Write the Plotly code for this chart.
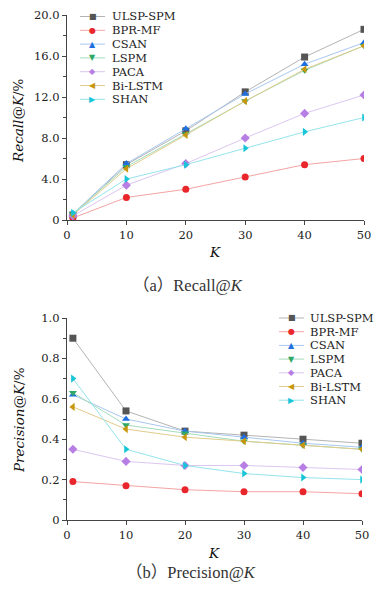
import plotly.graph_objects as go

K = [1, 10, 20, 30, 40, 50]
methods = ["ULSP-SPM", "BPR-MF", "CSAN", "LSPM", "PACA", "Bi-LSTM", "SHAN"]

recall_ulsp = [0.5, 5.4, 8.7, 12.5, 15.9, 18.6]
recall_bpr = [0.2, 2.2, 3.0, 4.2, 5.4, 6.0]
recall_csan = [0.6, 5.5, 8.9, 12.3, 15.2, 17.3]
recall_lspm = [0.6, 5.2, 8.4, 11.6, 14.6, 17.0]
recall_paca = [0.4, 3.4, 5.5, 8.0, 10.4, 12.2]
recall_bilstm = [0.5, 5.0, 8.3, 11.6, 14.7, 17.0]
recall_shan = [0.7, 4.0, 5.4, 7.0, 8.6, 10.0]

prec_ulsp = [0.90, 0.54, 0.44, 0.42, 0.40, 0.38]
prec_bpr = [0.19, 0.17, 0.15, 0.14, 0.14, 0.13]
prec_csan = [0.62, 0.50, 0.44, 0.41, 0.38, 0.36]
prec_lspm = [0.63, 0.47, 0.43, 0.39, 0.37, 0.35]
prec_paca = [0.35, 0.29, 0.27, 0.27, 0.26, 0.25]
prec_bilstm = [0.56, 0.45, 0.41, 0.39, 0.37, 0.35]
prec_shan = [0.70, 0.35, 0.27, 0.23, 0.21, 0.20]

recall_vals = [recall_ulsp, recall_bpr, recall_csan, recall_lspm, recall_paca, recall_bilstm, recall_shan]
prec_vals = [prec_ulsp, prec_bpr, prec_csan, prec_lspm, prec_paca, prec_bilstm, prec_shan]

x_ticks = [0, 10, 20, 30, 40, 50]
recall_ticks = [0, 4, 8, 12, 16, 20]
recall_ticktext = ["0", "4.0", "8.0", "12.0", "16.0", "20.0"]
prec_ticks = [0, 0.2, 0.4, 0.6, 0.8, 1.0]
prec_ticktext = ["0", "0.2", "0.4", "0.6", "0.8", "1.0"]

marker_colors = ["#555555", "#e8262b", "#1f6fe0", "#2ea866", "#b77fe3", "#c8960c", "#17c5d8"]
line_colors = ["#b4b4b4", "#f4a4a4", "#a8c8f0", "#a4dcbc", "#dcc6f0", "#e0cc8c", "#94e4ec"]
symbols = ["square", "circle", "triangle-up", "triangle-down", "diamond", "triangle-left", "triangle-right"]
glyphs = ["\u25A0", "\u25CF", "\u25B2", "\u25BC", "\u25C6", "\u25C0", "\u25B6"]

SERIF = "DejaVu Serif"
CAP_FONT = "Liberation Serif, Noto Sans CJK SC"
W, H = 375, 596


def px_x(p):
    return p / W


def px_y(p):
    return 1 - p / H


fig = go.Figure()
for i, name in enumerate(methods):
    fig.add_trace(go.Scatter(
        x=K, y=recall_vals[i], name=name, mode="lines+markers",
        line=dict(color=line_colors[i], width=1),
        marker=dict(symbol=symbols[i], size=7, color=marker_colors[i]),
        xaxis="x", yaxis="y", showlegend=False))
for i, name in enumerate(methods):
    fig.add_trace(go.Scatter(
        x=K, y=prec_vals[i], name=name, mode="lines+markers",
        line=dict(color=line_colors[i], width=1),
        marker=dict(symbol=symbols[i], size=7, color=marker_colors[i]),
        xaxis="x2", yaxis="y2", showlegend=False))

axis_common = dict(showline=True, linecolor="#444444", linewidth=1.3, ticks="outside",
                   ticklen=4, tickcolor="#444444", tickwidth=1, showgrid=False, zeroline=False,
                   automargin=False, ticklabeloverflow="allow",
                   tickfont=dict(family=SERIF, size=11.5, color="#222222"))

shapes = []
annotations = []

# compact legends (one per panel)
legend_specs = [
    dict(x0=80, x1=105, xt=110, y0=16.5, dy=13.8),
    dict(x0=279, x1=304, xt=308, y0=318, dy=13.7),
]
for spec in legend_specs:
    for i, name in enumerate(methods):
        yp = spec["y0"] + i * spec["dy"]
        shapes.append(dict(type="line", xref="paper", yref="paper",
                           x0=px_x(spec["x0"]), x1=px_x(spec["x1"]), y0=px_y(yp), y1=px_y(yp),
                           line=dict(color=line_colors[i], width=1)))
        annotations.append(dict(text=glyphs[i], xref="paper", yref="paper",
                                x=px_x((spec["x0"] + spec["x1"]) / 2), y=px_y(yp),
                                xanchor="center", yanchor="middle", showarrow=False,
                                font=dict(family="DejaVu Sans", size=8, color=marker_colors[i])))
        annotations.append(dict(text=name, xref="paper", yref="paper",
                                x=px_x(spec["xt"]), y=px_y(yp), xanchor="left", yanchor="middle",
                                showarrow=False,
                                font=dict(family=SERIF, size=11.5, color="#222222")))

# axis titles and captions (explicit centre anchoring)
center = dict(xref="paper", yref="paper", xanchor="center", yanchor="middle", showarrow=False)
annotations += [
    dict(text="<i>K</i>", x=px_x(215), y=px_y(252),
         font=dict(family=SERIF, size=13.5, color="#111111"), **center),
    dict(text="<i>K</i>", x=px_x(214), y=px_y(553),
         font=dict(family=SERIF, size=13.5, color="#111111"), **center),
    dict(text="<i>Recall</i>@<i>K</i>/%", x=px_x(18), y=px_y(121), textangle=-90,
         font=dict(family=SERIF, size=13.5, color="#111111"), **center),
    dict(text="<i>Precision</i>@<i>K</i>/%", x=px_x(19), y=px_y(420), textangle=-90,
         font=dict(family=SERIF, size=13.5, color="#111111"), **center),
    dict(text="（a）Recall@<i>K</i>", x=px_x(188), y=px_y(285),
         font=dict(family=CAP_FONT, size=16.5, color="#333333"), **center),
    dict(text="（b）Precision@<i>K</i>", x=px_x(191), y=px_y(572),
         font=dict(family=CAP_FONT, size=16.5, color="#333333"), **center),
]

fig.update_layout(
    width=W, height=H, margin=dict(l=0, r=0, t=0, b=0, autoexpand=False),
    paper_bgcolor="white", plot_bgcolor="white",
    font=dict(family=SERIF, color="#222222"),
    showlegend=False,
    xaxis=dict(domain=[px_x(67), px_x(364)], range=[0, 50], tickvals=x_ticks, anchor="y", **axis_common),
    yaxis=dict(domain=[px_y(220), px_y(15)], range=[0, 20], tickvals=recall_ticks, ticktext=recall_ticktext,
               anchor="x", minor=dict(tickmode="linear", tick0=0, dtick=2, ticks="outside", ticklen=3,
                                      tickcolor="#444444"), **axis_common),
    xaxis2=dict(domain=[px_x(67), px_x(362)], range=[0, 50], tickvals=x_ticks, anchor="y2", **axis_common),
    yaxis2=dict(domain=[px_y(520), px_y(318)], range=[0, 1], tickvals=prec_ticks, ticktext=prec_ticktext,
                anchor="x2", minor=dict(tickmode="linear", tick0=0, dtick=0.1, ticks="outside", ticklen=3,
                                        tickcolor="#444444"), **axis_common),
    shapes=shapes,
    annotations=annotations,
)

fig.write_html("out.html", config={"displayModeBar": False},
               post_script="document.body.style.margin='0';document.body.style.overflow='hidden';")
